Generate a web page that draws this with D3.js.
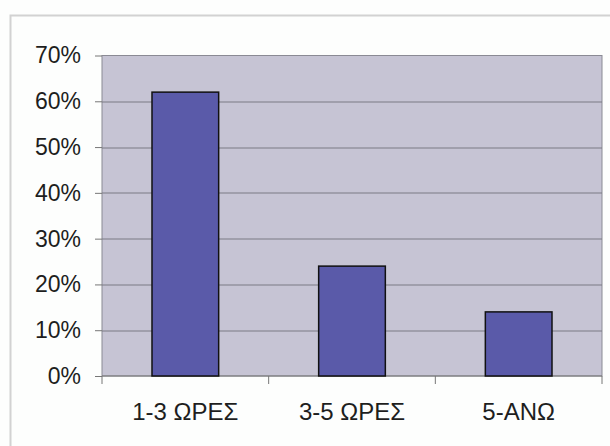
<!DOCTYPE html>
<meta charset="utf-8">
<style>
  body {
    margin: 0;
    background: #fdfefd;
  }

  .axis text {
    font-family: "Liberation Sans", Arial, sans-serif;
    font-size: 23px;
    fill: #1e1e1e;
  }

  .axis--x text {
    font-size: 24px;
  }

  .axis path {
    display: none;
  }

  .axis line {
    stroke: #777;
  }

  .grid line {
    stroke: #7a7a84;
    stroke-width: 1;
  }

  .bar {
    fill: #5a5aa9;
    stroke: #111;
    stroke-width: 1.5;
  }
</style>

<body>
  <svg width="610" height="446"></svg>
</body>
<script src="https://cdnjs.cloudflare.com/ajax/libs/d3/7.8.5/d3.min.js"></script>
<script>
  // data
  var categories = ["1-3 ΩΡΕΣ", "3-5 ΩΡΕΣ", "5-ΑΝΩ"];
  var values = [0.62, 0.24, 0.14];
  var yTicks = [0, 0.1, 0.2, 0.3, 0.4, 0.5, 0.6, 0.7];

  var svg = d3.select("svg"),
    margin = {
      top: 55.5,
      right: 8,
      bottom: 70,
      left: 102
    },
    width = +svg.attr("width") - margin.left - margin.right,
    height = +svg.attr("height") - margin.top - margin.bottom;

  // outer chart frame (only top and left visible)
  svg.append("rect")
    .attr("x", 10.5)
    .attr("y", 15.5)
    .attr("width", 640)
    .attr("height", 480)
    .attr("fill", "none")
    .attr("stroke", "#d2d2d2")
    .attr("stroke-width", 2);

  var x = d3.scaleBand().domain(categories).range([0, width]).paddingInner(0.6).paddingOuter(0.3),
    xCat = d3.scaleBand().domain(categories).range([0, width]),
    y = d3.scaleLinear().domain([0, 0.7]).range([height, 0]);

  var g = svg.append("g")
    .attr("transform", "translate(" + margin.left + "," + margin.top + ")");

  // plot background
  g.append("rect")
    .attr("width", width)
    .attr("height", height)
    .attr("fill", "#c6c4d4")
    .attr("stroke", "#8a8a94")
    .attr("stroke-width", 1);

  // gridlines
  g.append("g")
    .attr("class", "grid")
    .selectAll("line")
    .data(yTicks.slice(1, -1))
    .enter().append("line")
    .attr("x1", 0)
    .attr("x2", width)
    .attr("y1", function (d) { return Math.round(y(d)) + 0.5; })
    .attr("y2", function (d) { return Math.round(y(d)) + 0.5; });

  // y axis
  g.append("g")
    .attr("class", "axis axis--y")
    .call(d3.axisLeft(y).tickValues(yTicks).tickFormat(d3.format(".0%")).tickSize(7).tickPadding(14));

  // x axis with ticks at category boundaries
  var xAxis = g.append("g")
    .attr("class", "axis axis--x")
    .attr("transform", "translate(0," + height + ")");
  xAxis.append("line")
    .attr("x1", 0).attr("x2", width)
    .attr("stroke", "#777");
  xAxis.selectAll(".sep")
    .data([0].concat(categories.map(function (c) { return xCat(c) + xCat.bandwidth(); })))
    .enter().append("line")
    .attr("class", "sep")
    .attr("x1", function (d) { return d; })
    .attr("x2", function (d) { return d; })
    .attr("y1", 0)
    .attr("y2", 8);
  xAxis.selectAll(".lbl")
    .data(categories)
    .enter().append("text")
    .attr("class", "lbl")
    .attr("x", function (d) { return xCat(d) + xCat.bandwidth() / 2; })
    .attr("y", 44)
    .attr("text-anchor", "middle")
    .text(function (d) { return d; });

  // bars
  g.selectAll(".bar")
    .data(values)
    .enter().append("rect")
    .attr("class", "bar")
    .attr("x", function (d, i) { return x(categories[i]); })
    .attr("y", function (d) { return y(d); })
    .attr("width", x.bandwidth())
    .attr("height", function (d) { return height - y(d); });
</script>
